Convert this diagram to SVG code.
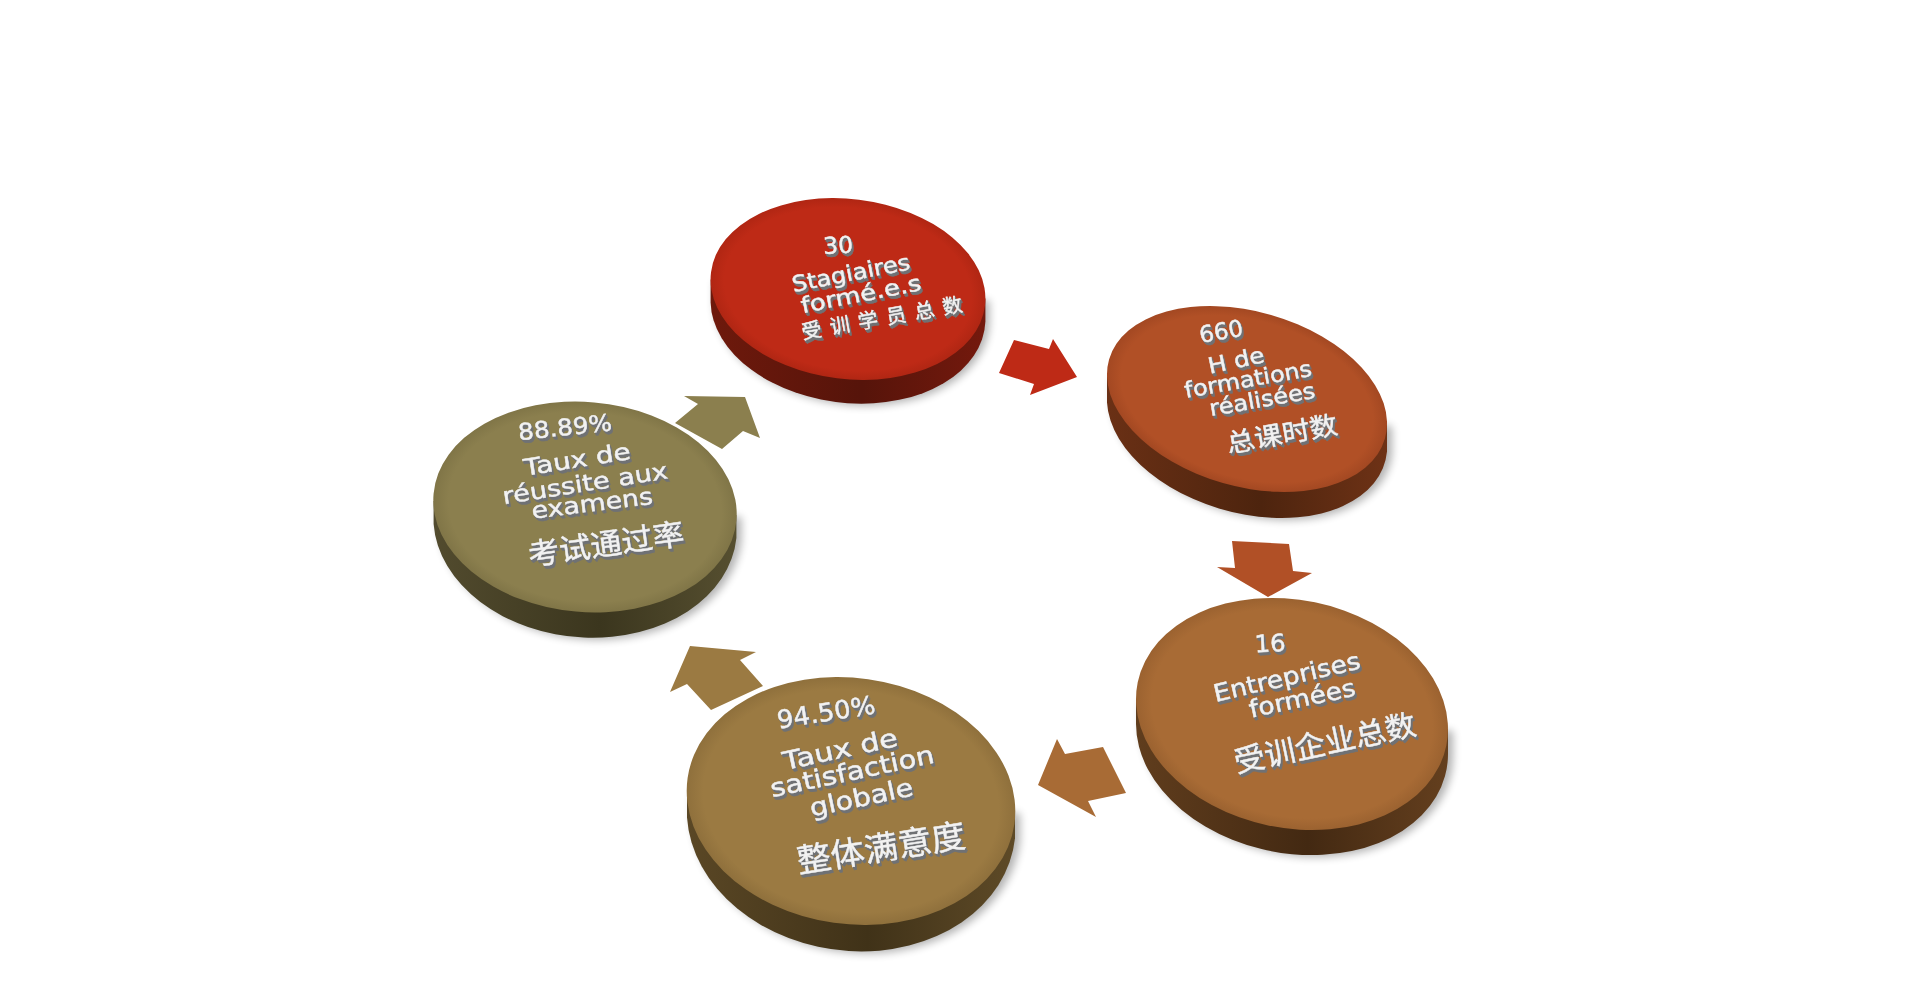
<svg xmlns="http://www.w3.org/2000/svg" width="1920" height="1001" viewBox="0 0 1920 1001">
<defs>
<style>
text{font-family:"DejaVu Sans","Noto Sans CJK SC",sans-serif;fill:#f2f2f2;stroke:#f2f2f2;stroke-width:.45px;text-anchor:middle;font-size:22px}
.c{font-family:"Noto Sans CJK SC",sans-serif}
.t{filter:url(#ext)}
.sh{fill:#000;opacity:.3;filter:url(#blur)}
</style>
<filter id="ext" x="-10%" y="-10%" width="120%" height="120%" color-interpolation-filters="sRGB">
<feFlood flood-color="#6f7174" result="g"/>
<feOffset in="SourceAlpha" dx=".7" dy="1" result="o1"/>
<feOffset in="SourceAlpha" dx="1.4" dy="2" result="o2"/>
<feOffset in="SourceAlpha" dx="2" dy="3" result="o3"/>
<feMerge result="m"><feMergeNode in="o1"/><feMergeNode in="o2"/><feMergeNode in="o3"/></feMerge>
<feComposite in="g" in2="m" operator="in" result="ex"/>
<feGaussianBlur in="SourceGraphic" stdDeviation=".35" result="s"/>
<feMerge><feMergeNode in="ex"/><feMergeNode in="s"/></feMerge>
</filter>
<filter id="blur" x="-10%" y="-10%" width="120%" height="120%"><feGaussianBlur stdDeviation="4"/></filter>
<linearGradient id="s1"><stop offset="0" stop-color="#6e190c"/><stop offset=".55" stop-color="#56140a"/><stop offset="1" stop-color="#74190d"/></linearGradient>
<linearGradient id="s2"><stop offset="0" stop-color="#6a3015"/><stop offset=".55" stop-color="#4d240e"/><stop offset="1" stop-color="#6e3216"/></linearGradient>
<linearGradient id="s3"><stop offset="0" stop-color="#603d1d"/><stop offset=".55" stop-color="#432912"/><stop offset="1" stop-color="#643f1e"/></linearGradient>
<linearGradient id="s4"><stop offset="0" stop-color="#5a4725"/><stop offset=".55" stop-color="#403218"/><stop offset="1" stop-color="#5e4a27"/></linearGradient>
<linearGradient id="s5"><stop offset="0" stop-color="#524b2e"/><stop offset=".55" stop-color="#3b361e"/><stop offset="1" stop-color="#564f30"/></linearGradient>
<radialGradient id="f1"><stop offset=".9" stop-color="#be2a16"/><stop offset="1" stop-color="#b02613"/></radialGradient>
<radialGradient id="f2"><stop offset=".9" stop-color="#b15026"/><stop offset="1" stop-color="#a34822"/></radialGradient>
<radialGradient id="f3"><stop offset=".9" stop-color="#a86b35"/><stop offset="1" stop-color="#9b6230"/></radialGradient>
<radialGradient id="f4"><stop offset=".9" stop-color="#9b7a42"/><stop offset="1" stop-color="#8f703c"/></radialGradient>
<radialGradient id="f5"><stop offset=".9" stop-color="#8b7f4e"/><stop offset="1" stop-color="#807547"/></radialGradient>
</defs>
<rect width="1920" height="1001" fill="#fff"/>
<g id="connectors">
<polygon fill="#be2a16" points="1014,340 1049,349 1053,339 1077,377 1030,395 1034,384 999,373"/>
<polygon fill="#b15026" points="1232,541 1289,544 1293,571 1312,573 1268,597 1217,567 1235,568"/>
<polygon fill="#a86b35" points="1057,739 1065,754 1103,747 1126,793 1088,801 1096,817 1038,785"/>
<polygon fill="#9b7a42" points="690,646 756,652 740,660 763,686 711,710 687,684 670,692"/>
<polygon fill="#8b7f4e" points="684,396 745,397 760,438 743,431 722,449 675,423 698,404"/>
</g>
<g id="node1">
<path class="sh" transform="translate(4,2)" d="M710.6 279.4v23A138 93 7 0 0 985.4 321.6V298.6Z"/>
<path fill="url(#s1)" d="M710.6 279.4v23A138 93 7 0 0 985.4 321.6V298.6Z"/>
<ellipse cx="848" cy="289" rx="138" ry="90" fill="url(#f1)" transform="rotate(7 848 289)"/>
<g class="t">
<text style="font-size:23px" transform="translate(838,245) rotate(-3)" dy=".36em" textLength="30" lengthAdjust="spacingAndGlyphs">30</text>
<text transform="translate(851,274) rotate(-11)" dy=".3em" textLength="120" lengthAdjust="spacingAndGlyphs">Stagiaires</text>
<text transform="translate(861,295) rotate(-11)" dy=".3em" textLength="122" lengthAdjust="spacingAndGlyphs">formé.e.s</text>
<text class="c" style="font-size:20px" transform="translate(882,318) rotate(-10)" dy=".36em" textLength="163">受训学员总数</text>
</g>
</g>
<g id="node2">
<path class="sh" transform="translate(5,2)" d="M1107 375.5v27A143.5 90.5 16 0 0 1387 451.5V424.5Z"/>
<path fill="url(#s2)" d="M1107 375.5v27A143.5 90.5 16 0 0 1387 451.5V424.5Z"/>
<ellipse cx="1247" cy="399" rx="143.5" ry="87.5" fill="url(#f2)" transform="rotate(16 1247 399)"/>
<g class="t">
<text style="font-size:23px" transform="translate(1221,331) rotate(-10)" dy=".36em" textLength="44" lengthAdjust="spacingAndGlyphs">660</text>
<text transform="translate(1236,360) rotate(-12)" dy=".36em" textLength="57" lengthAdjust="spacingAndGlyphs">H de</text>
<text transform="translate(1248,379) rotate(-10)" dy=".36em" textLength="129" lengthAdjust="spacingAndGlyphs">formations</text>
<text transform="translate(1262,399) rotate(-10)" dy=".36em" textLength="107" lengthAdjust="spacingAndGlyphs">réalisées</text>
<text class="c" style="font-size:26px" transform="translate(1282,434) rotate(-10)" dy=".36em" textLength="112" lengthAdjust="spacingAndGlyphs">总课时数</text>
</g>
</g>
<g id="node3">
<path class="sh" transform="translate(5,2)" d="M1136 699.1v25A157.5 114 11.6 0 0 1448 753.9V728.9Z"/>
<path fill="url(#s3)" d="M1136 699.1v25A157.5 114 11.6 0 0 1448 753.9V728.9Z"/>
<ellipse cx="1292" cy="714" rx="157.5" ry="114" fill="url(#f3)" transform="rotate(11.6 1292 714)"/>
<g class="t">
<text style="font-size:24px" transform="translate(1270,643) rotate(-3)" dy=".36em" textLength="31" lengthAdjust="spacingAndGlyphs">16</text>
<text style="font-size:24px" transform="translate(1287,678) rotate(-13)" dy=".3em" textLength="150" lengthAdjust="spacingAndGlyphs">Entreprises</text>
<text style="font-size:24px" transform="translate(1302,698) rotate(-12)" dy=".36em" textLength="108" lengthAdjust="spacingAndGlyphs">formées</text>
<text class="c" style="font-size:30px" transform="translate(1325,743) rotate(-12)" dy=".36em" textLength="185" lengthAdjust="spacingAndGlyphs">受训企业总数</text>
</g>
</g>
<g id="node4">
<path class="sh" transform="translate(5,2)" d="M687 790.8v27A165 132 8 0 0 1015 838.2V811.2Z"/>
<path fill="url(#s4)" d="M687 790.8v27A165 132 8 0 0 1015 838.2V811.2Z"/>
<ellipse cx="851" cy="801" rx="165" ry="123" fill="url(#f4)" transform="rotate(8 851 801)"/>
<g class="t">
<text style="font-size:25px" transform="translate(826,712) rotate(-9)" dy=".36em" textLength="99" lengthAdjust="spacingAndGlyphs">94.50%</text>
<text style="font-size:25px" transform="translate(840,749) rotate(-12)" dy=".36em" textLength="117" lengthAdjust="spacingAndGlyphs">Taux de</text>
<text style="font-size:25px" transform="translate(852,771) rotate(-12)" dy=".36em" textLength="167" lengthAdjust="spacingAndGlyphs">satisfaction</text>
<text style="font-size:25px" transform="translate(862,801) rotate(-12)" dy=".2em" textLength="105" lengthAdjust="spacingAndGlyphs">globale</text>
<text class="c" style="font-size:33px" transform="translate(881,848) rotate(-9)" dy=".36em" textLength="170" lengthAdjust="spacingAndGlyphs">整体满意度</text>
</g>
</g>
<g id="node5">
<path class="sh" transform="translate(5,2)" d="M433.6 501.1v23A152 114 5 0 0 736.4 537.9V514.9Z"/>
<path fill="url(#s5)" d="M433.6 501.1v23A152 114 5 0 0 736.4 537.9V514.9Z"/>
<ellipse cx="585" cy="507" rx="152" ry="105" fill="url(#f5)" transform="rotate(5 585 507)"/>
<g class="t">
<text style="font-size:23px" transform="translate(565,427) rotate(-6)" dy=".36em" textLength="94" lengthAdjust="spacingAndGlyphs">88.89%</text>
<text style="font-size:23px" transform="translate(577,459) rotate(-9)" dy=".36em" textLength="108" lengthAdjust="spacingAndGlyphs">Taux de</text>
<text style="font-size:23px" transform="translate(585,483) rotate(-9)" dy=".36em" textLength="167" lengthAdjust="spacingAndGlyphs">réussite aux</text>
<text style="font-size:23px" transform="translate(592,503) rotate(-7)" dy=".36em" textLength="122" lengthAdjust="spacingAndGlyphs">examens</text>
<text class="c" style="font-size:30px" transform="translate(606,544) rotate(-8)" dy=".36em" textLength="157" lengthAdjust="spacingAndGlyphs">考试通过率</text>
</g>
</g>
</svg>
